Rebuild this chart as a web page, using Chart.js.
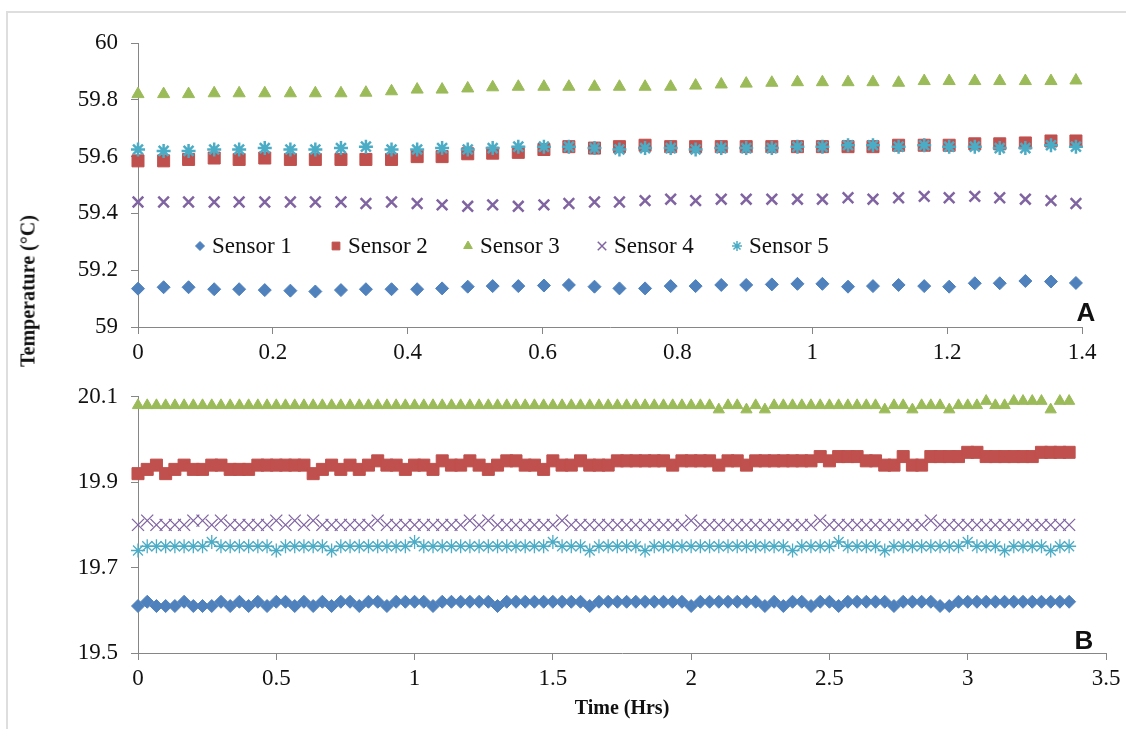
<!DOCTYPE html>
<html>
<head>
<meta charset="utf-8">
<script src="https://cdn.jsdelivr.net/npm/chart.js@4.4.1/dist/chart.umd.min.js"></script>
<style>
html, body { margin: 0; padding: 0; background: #fff; }
body { width: 1126px; height: 729px; position: relative; overflow: hidden; font-family: "Liberation Serif", "Times New Roman", serif; color: #111; }
#frame { position: absolute; left: 6px; top: 11px; width: 1140px; height: 740px; border-left: 2px solid #dedede; border-top: 2px solid #dedede; }
canvas { position: absolute; left: 0; }
#chartA { top: 0; }
#chartB { top: 370px; }
#ytitle { position: absolute; left: 28px; top: 291px; transform: translate(-50%, -50%) rotate(-90deg); font-weight: bold; font-size: 20px; white-space: nowrap; }
#xtitle { position: absolute; left: 622px; top: 707px; transform: translate(-50%, -50%); font-weight: bold; font-size: 20px; white-space: nowrap; }
.tag { position: absolute; transform: translate(-50%, -50%); font-family: "Liberation Sans", Arial, sans-serif; font-weight: bold; font-size: 26px; }
</style>
</head>
<body>
<div id="frame"></div>
<canvas id="chartA" width="1126" height="370"></canvas>
<canvas id="chartB" width="1126" height="359"></canvas>
<div id="ytitle">Temperature (°C)</div>
<div id="xtitle">Time (Hrs)</div>
<div class="tag" style="left:1086px; top:312px;">A</div>
<div class="tag" style="left:1084px; top:640px;">B</div>
<script>
// series names / ticks
const sensorNames = ["Sensor 1", "Sensor 2", "Sensor 3", "Sensor 4", "Sensor 5"];
const ticksAx = [0, 0.2, 0.4, 0.6, 0.8, 1, 1.2, 1.4];
const ticksAy = [59, 59.2, 59.4, 59.6, 59.8, 60];
const ticksBx = [0, 0.5, 1, 1.5, 2, 2.5, 3, 3.5];
const ticksBy = [19.5, 19.7, 19.9, 20.1];

// panel A : time in hours
const timeA = [0,0.038,0.075,0.113,0.150,0.188,0.226,0.263,0.301,0.338,0.376,0.414,0.451,0.489,0.526,0.564,0.602,0.639,0.677,0.714,
  0.752,0.790,0.827,0.865,0.902,0.940,0.978,1.015,1.053,1.090,1.128,1.166,1.203,1.241,1.278,1.316,1.354,1.391];
const sensor1A = [59.135,59.14,59.14,59.133,59.133,59.13,59.128,59.125,59.13,59.133,59.133,
  59.133,59.136,59.142,59.144,59.144,59.146,59.148,59.142,59.136,59.136,59.144,59.144,59.148,59.148,
  59.15,59.152,59.152,59.142,59.144,59.148,59.144,59.142,59.154,59.154,59.162,59.16,59.155];
const sensor2A = [59.585,59.585,59.59,59.595,59.59,59.595,59.59,59.59,59.59,59.59,59.59,
  59.6,59.6,59.61,59.612,59.615,59.625,59.635,59.63,59.635,59.64,59.635,59.635,59.635,59.635,
  59.635,59.635,59.635,59.635,59.635,59.64,59.64,59.64,59.645,59.645,59.648,59.655,59.655];
const sensor3A = [59.82,59.82,59.82,59.823,59.823,59.823,59.823,59.823,59.823,59.825,59.83,
  59.836,59.836,59.84,59.844,59.846,59.846,59.846,59.846,59.846,59.846,59.846,59.85,59.854,
  59.857,59.86,59.862,59.862,59.862,59.862,59.86,59.866,59.866,59.866,59.866,59.866,59.866,59.868];
const sensor4A = [59.44,59.44,59.44,59.44,59.44,59.44,59.44,59.44,59.44,59.435,59.44,
  59.435,59.43,59.425,59.43,59.425,59.43,59.435,59.44,59.44,59.445,59.45,59.445,59.45,59.45,
  59.45,59.45,59.45,59.455,59.45,59.455,59.46,59.455,59.46,59.455,59.45,59.445,59.435];
const sensor5A = [59.625,59.62,59.62,59.625,59.625,59.63,59.625,59.625,59.63,59.635,59.625,
  59.625,59.63,59.625,59.63,59.635,59.635,59.635,59.63,59.625,59.63,59.63,59.625,59.63,59.63,
  59.63,59.635,59.635,59.64,59.64,59.635,59.64,59.635,59.635,59.63,59.63,59.64,59.635];

// panel B : time in minutes (every 2 min)
const minutesB = [0,2,4,6,8,10,12,14,16,18,20,22,24,26,28,30,32,34,36,38,
  40,42,44,46,48,50,52,54,56,58,60,62,64,66,68,70,72,74,76,78,
  80,82,84,86,88,90,92,94,96,98,100,102,104,106,108,110,112,114,116,118,
  120,122,124,126,128,130,132,134,136,138,140,142,144,146,148,150,152,154,156,158,
  160,162,164,166,168,170,172,174,176,178,180,182,184,186,188,190,192,194,196,198,
  200,202];
const sensor1B = [19.61,19.62,19.61,19.61,19.61,19.62,19.61,19.61,19.61,19.62,
  19.61,19.62,19.61,19.62,19.61,19.62,19.62,19.61,19.62,19.61,
  19.62,19.61,19.62,19.62,19.61,19.62,19.62,19.61,19.62,19.62,
  19.62,19.62,19.61,19.62,19.62,19.62,19.62,19.62,19.62,19.61,
  19.62,19.62,19.62,19.62,19.62,19.62,19.62,19.62,19.62,19.61,
  19.62,19.62,19.62,19.62,19.62,19.62,19.62,19.62,19.62,19.62,
  19.61,19.62,19.62,19.62,19.62,19.62,19.62,19.62,19.61,19.62,
  19.61,19.62,19.62,19.61,19.62,19.62,19.61,19.62,19.62,19.62,
  19.62,19.62,19.61,19.62,19.62,19.62,19.62,19.61,19.61,19.62,
  19.62,19.62,19.62,19.62,19.62,19.62,19.62,19.62,19.62,19.62,19.62,19.62];
const sensor2B = [19.92,19.93,19.94,19.92,19.93,19.94,19.93,19.93,19.94,19.94,
  19.93,19.93,19.93,19.94,19.94,19.94,19.94,19.94,19.94,19.92,
  19.93,19.94,19.93,19.94,19.93,19.94,19.95,19.94,19.94,19.93,
  19.94,19.94,19.93,19.95,19.94,19.94,19.95,19.94,19.93,19.94,
  19.95,19.95,19.94,19.94,19.93,19.95,19.94,19.94,19.95,19.94,
  19.94,19.94,19.95,19.95,19.95,19.95,19.95,19.95,19.94,19.95,
  19.95,19.95,19.95,19.94,19.95,19.95,19.94,19.95,19.95,19.95,
  19.95,19.95,19.95,19.95,19.96,19.95,19.96,19.96,19.96,19.95,
  19.95,19.94,19.94,19.96,19.94,19.94,19.96,19.96,19.96,19.96,
  19.97,19.97,19.96,19.96,19.96,19.96,19.96,19.96,19.97,19.97,19.97,19.97];
const sensor3B = [20.08,20.08,20.08,20.08,20.08,20.08,20.08,20.08,20.08,20.08,
  20.08,20.08,20.08,20.08,20.08,20.08,20.08,20.08,20.08,20.08,
  20.08,20.08,20.08,20.08,20.08,20.08,20.08,20.08,20.08,20.08,
  20.08,20.08,20.08,20.08,20.08,20.08,20.08,20.08,20.08,20.08,
  20.08,20.08,20.08,20.08,20.08,20.08,20.08,20.08,20.08,20.08,
  20.08,20.08,20.08,20.08,20.08,20.08,20.08,20.08,20.08,20.08,
  20.08,20.08,20.08,20.07,20.08,20.08,20.07,20.08,20.07,20.08,
  20.08,20.08,20.08,20.08,20.08,20.08,20.08,20.08,20.08,20.08,
  20.08,20.07,20.08,20.08,20.07,20.08,20.08,20.08,20.07,20.08,
  20.08,20.08,20.09,20.08,20.08,20.09,20.09,20.09,20.09,20.07,20.09,20.09];
const sensor4B = [19.8,19.81,19.8,19.8,19.8,19.8,19.81,19.81,19.8,19.81,
  19.8,19.8,19.8,19.8,19.8,19.81,19.8,19.81,19.8,19.81,
  19.8,19.8,19.8,19.8,19.8,19.8,19.81,19.8,19.8,19.8,
  19.8,19.8,19.8,19.8,19.8,19.8,19.81,19.8,19.81,19.8,
  19.8,19.8,19.8,19.8,19.8,19.8,19.81,19.8,19.8,19.8,
  19.8,19.8,19.8,19.8,19.8,19.8,19.8,19.8,19.8,19.8,
  19.81,19.8,19.8,19.8,19.8,19.8,19.8,19.8,19.8,19.8,
  19.8,19.8,19.8,19.8,19.81,19.8,19.8,19.8,19.8,19.8,
  19.8,19.8,19.8,19.8,19.8,19.8,19.81,19.8,19.8,19.8,
  19.8,19.8,19.8,19.8,19.8,19.8,19.8,19.8,19.8,19.8,19.8,19.8];
const sensor5B = [19.74,19.75,19.75,19.75,19.75,19.75,19.75,19.75,19.76,19.75,
  19.75,19.75,19.75,19.75,19.75,19.74,19.75,19.75,19.75,19.75,
  19.75,19.74,19.75,19.75,19.75,19.75,19.75,19.75,19.75,19.75,
  19.76,19.75,19.75,19.75,19.75,19.75,19.75,19.75,19.75,19.75,
  19.75,19.75,19.75,19.75,19.75,19.76,19.75,19.75,19.75,19.74,
  19.75,19.75,19.75,19.75,19.75,19.74,19.75,19.75,19.75,19.75,
  19.75,19.75,19.75,19.75,19.75,19.75,19.75,19.75,19.75,19.75,
  19.75,19.74,19.75,19.75,19.75,19.75,19.76,19.75,19.75,19.75,
  19.75,19.74,19.75,19.75,19.75,19.75,19.75,19.75,19.75,19.75,
  19.76,19.75,19.75,19.75,19.74,19.75,19.75,19.75,19.75,19.74,19.75,19.75];

// look
const colors = ["#4f81bd", "#c0504d", "#9bbb59", "#8064a2", "#4bacc6"];
const styles = ["rectRot", "rect", "triangle", "crossRot", "star"];
const radiusA = [6.5, 8.5, 7, 7.5, 7];
const radiusB = [6.5, 8.5, 6.5, 8.5, 7];
const lineA = [1, 1, 1, 2.5, 2.5];
const lineB = [1, 1, 1, 1.3, 1.3];
const legendX = [200, 336, 468, 602, 737];
const legendR = [4.5, 5.5, 5, 6, 5];
const legendY = 246;
const axisGrey = "#868686";
const serif = '"Liberation Serif", "Times New Roman", serif';

Chart.defaults.font.family = serif;
Chart.defaults.font.size = 23;
Chart.defaults.color = "#111";

function toPoints(xs, ys) {
  return xs.map((x, i) => ({x: x, y: ys[i]}));
}

function makeSets(xs, series, radius, lw) {
  return series.map((ys, i) => ({
    label: sensorNames[i],
    data: toPoints(xs, ys),
    pointStyle: styles[i],
    pointRadius: radius[i],
    pointBackgroundColor: colors[i],
    pointBorderColor: colors[i],
    pointBorderWidth: lw[i],
    showLine: false,
    clip: false,
    order: 5 - i
  }));
}

function fixedTicks(list) {
  return function(scale) {
    scale.ticks = list.map(v => ({value: v}));
  };
}

function axis(min, max, list, size, isX) {
  return {
    type: "linear",
    min: min,
    max: max,
    afterBuildTicks: fixedTicks(list),
    afterFit: function(scale) {
      if (isX) scale.height = size; else scale.width = size;
    },
    ticks: {
      padding: isX ? 5 : 13,
      color: "#111",
      callback: v => String(Number(v.toFixed(2)))
    },
    grid: {drawOnChartArea: false, drawTicks: true, tickLength: 7, color: axisGrey, lineWidth: 1},
    border: {color: axisGrey, width: 1}
  };
}

const legendA = {
  id: "legendA",
  afterDraw(chart) {
    const ctx = chart.ctx;
    ctx.save();
    ctx.font = "23px " + serif;
    ctx.textBaseline = "middle";
    ctx.textAlign = "left";
    for (let i = 0; i < sensorNames.length; i++) {
      const mx = legendX[i];
      ctx.fillStyle = colors[i];
      ctx.strokeStyle = colors[i];
      ctx.lineWidth = i >= 3 ? 1.5 : 1;
      Chart.helpers.drawPoint(ctx, {pointStyle: styles[i], radius: legendR[i], borderWidth: ctx.lineWidth, rotation: 0}, mx, legendY);
      ctx.fillStyle = "#111";
      ctx.fillText(sensorNames[i], mx + 12, legendY + 1);
    }
    ctx.restore();
  }
};

const baseOpts = {
  responsive: false,
  animation: false,
  events: [],
  plugins: {legend: {display: false}, tooltip: {enabled: false}}
};

new Chart("chartA", {
  type: "scatter",
  data: {datasets: makeSets(timeA, [sensor1A, sensor2A, sensor3A, sensor4A, sensor5A], radiusA, lineA)},
  options: Object.assign({}, baseOpts, {
    layout: {padding: {left: 0, right: 44, top: 43, bottom: 0}},
    scales: {
      x: axis(0, 1.4, ticksAx, 43, true),
      y: axis(59, 60, ticksAy, 138, false)
    }
  }),
  plugins: [legendA]
});

const hoursB = minutesB.map(m => m / 60);

new Chart("chartB", {
  type: "scatter",
  data: {datasets: makeSets(hoursB, [sensor1B, sensor2B, sensor3B, sensor4B, sensor5B], radiusB, lineB)},
  options: Object.assign({}, baseOpts, {
    layout: {padding: {left: 0, right: 20, top: 23, bottom: 0}},
    scales: {
      x: axis(0, 3.5, ticksBx, 76, true),
      y: axis(19.5, 20.1, ticksBy, 138, false)
    }
  })
});
</script>
</body>
</html>
